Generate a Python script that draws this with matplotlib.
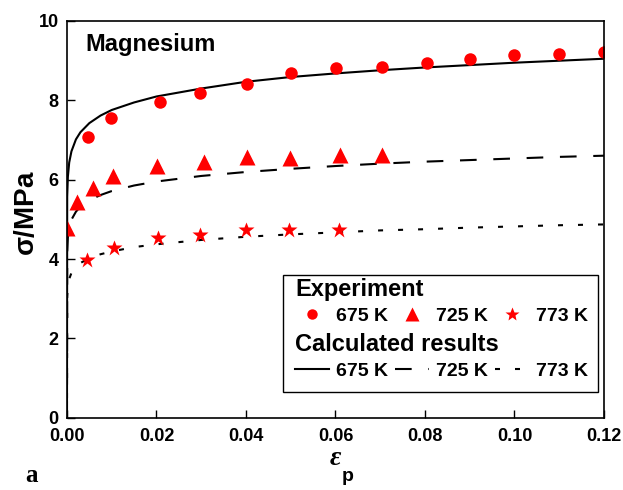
import matplotlib
matplotlib.use('Agg')
import matplotlib.pyplot as plt
from matplotlib.lines import Line2D
from matplotlib.patches import Rectangle

plt.rcParams['font.family'] = ['Liberation Sans', 'DejaVu Sans']
plt.rcParams['font.weight'] = 'bold'
plt.rcParams['mathtext.fontset'] = 'custom'
plt.rcParams['mathtext.rm'] = 'Liberation Sans'

# experiment points
eps_675 = [0.0047, 0.0098, 0.0208, 0.0297, 0.0402, 0.0500, 0.0601, 0.0703, 0.0804, 0.0901, 0.0998, 0.1100, 0.1199]
sig_675 = [7.06, 7.54, 7.94, 8.19, 8.41, 8.69, 8.80, 8.83, 8.93, 9.03, 9.13, 9.17, 9.22]
eps_725 = [0.0, 0.0022, 0.0059, 0.0102, 0.0202, 0.0306, 0.0402, 0.0498, 0.0610, 0.0705]
sig_725 = [4.79, 5.44, 5.78, 6.09, 6.34, 6.45, 6.57, 6.53, 6.62, 6.62]
eps_773 = [0.0045, 0.0106, 0.0204, 0.0297, 0.0400, 0.0497, 0.0608]
sig_773 = [3.97, 4.27, 4.52, 4.60, 4.73, 4.73, 4.73]

# calculated curves
eps_calc = [0.0, 0.00005, 0.0002, 0.0005, 0.001, 0.002, 0.003, 0.005, 0.0075, 0.01, 0.015,
            0.02, 0.03, 0.04, 0.05, 0.06, 0.07, 0.08, 0.09, 0.10, 0.11, 0.12]
calc_675 = [0.0, 5.57, 6.07, 6.43, 6.71, 7.01, 7.19, 7.42, 7.61, 7.75, 7.94,
            8.09, 8.29, 8.46, 8.58, 8.67, 8.75, 8.82, 8.88, 8.94, 8.99, 9.04]
calc_725 = [0.0, 4.18, 4.54, 4.79, 4.99, 5.19, 5.32, 5.48, 5.61, 5.71, 5.85,
            5.95, 6.09, 6.19, 6.27, 6.34, 6.40, 6.45, 6.49, 6.53, 6.57, 6.60]
calc_773 = [0.0, 3.05, 3.31, 3.50, 3.65, 3.80, 3.90, 4.02, 4.12, 4.19, 4.30,
            4.37, 4.48, 4.56, 4.62, 4.67, 4.72, 4.75, 4.79, 4.82, 4.85, 4.87]

temps = ['675 K', '725 K', '773 K']
xticks = [0.00, 0.02, 0.04, 0.06, 0.08, 0.10, 0.12]
yticks = [0, 2, 4, 6, 8, 10]

red = '#ff0000'
dash_725 = (0, (8, 8))
dot_773 = (0, (2.4, 7.2))

fig = plt.figure(figsize=(6.23, 4.9), dpi=100)
ax = fig.add_axes([0.1075, 0.147, 0.862, 0.811])

ax.plot(eps_calc, calc_675, color='black', lw=1.5, linestyle='-')
ax.plot(eps_calc, calc_725, color='black', lw=1.5, linestyle=dash_725)
ax.plot(eps_calc, calc_773, color='black', lw=1.5, linestyle=dot_773)

ax.plot(eps_675, sig_675, 'o', color=red, ms=9, mec='none')
ax.plot(eps_725, sig_725, '^', color=red, ms=11, mec='none')
ax.plot(eps_773, sig_773, '*', color=red, ms=12, mec='none')

ax.set_xlim(0, 0.12)
ax.set_ylim(0, 10)
ax.set_xticks(xticks)
ax.set_xticklabels([f'{v:.2f}' for v in xticks])
ax.set_yticks(yticks)
ax.tick_params(direction='in', length=5.5, width=1, labelsize=13)
ax.tick_params(axis='x', pad=7.5)
ax.tick_params(axis='y', pad=6)
for s in ax.spines.values():
    s.set_linewidth(1.2)

ax.text(0.035, 0.968, 'Magnesium', transform=ax.transAxes, fontsize=17,
        fontweight='bold', va='top', ha='left')

# axis labels
fig.text(0.043, 0.565, r'$\mathrm{\sigma}$/MPa', rotation=90, fontsize=20, fontweight='bold',
         ha='center', va='center')
fig.text(0.538, 0.051, 'ε', fontsize=20, family='Liberation Serif', style='italic',
         ha='center', va='baseline')
fig.text(0.549, 0.018, 'p', fontsize=14, fontweight='bold', ha='left', va='baseline')
fig.text(0.04, 0.016, 'a', fontsize=18, family='Liberation Serif', fontweight='bold',
         ha='left', va='baseline')

# legend box
ax.add_patch(Rectangle((0.402, 0.065), 0.587, 0.294, transform=ax.transAxes,
                       fill=True, facecolor='white', edgecolor='black', lw=1.0, zorder=5))

mk_handles = [
    Line2D([], [], marker='o', color=red, ls='none', ms=7.5, mec='none'),
    Line2D([], [], marker='^', color=red, ls='none', ms=10, mec='none'),
    Line2D([], [], marker='*', color=red, ls='none', ms=10.5, mec='none'),
]
ln_handles = [
    Line2D([], [], color='black', lw=1.5, ls='-'),
    Line2D([], [], color='black', lw=1.5, ls=dash_725),
    Line2D([], [], color='black', lw=1.5, ls=dot_773),
]
common = dict(ncol=3, frameon=False, fontsize=14, handlelength=1.75, handletextpad=0.36,
              columnspacing=0.36, borderpad=0, borderaxespad=0, alignment='left',
              labelspacing=0.3,
              title_fontproperties={'weight': 'bold', 'size': 17})
leg1 = ax.legend(mk_handles, temps, loc='upper left', bbox_to_anchor=(0.4246, 0.352),
                 title='Experiment', **common)
leg1.set_zorder(6)
ax.add_artist(leg1)
leg2 = ax.legend(ln_handles, temps, loc='upper left', bbox_to_anchor=(0.4246, 0.213),
                 title='Calculated results', **common)
leg2.set_zorder(6)

fig.savefig('out.png', dpi=100)
